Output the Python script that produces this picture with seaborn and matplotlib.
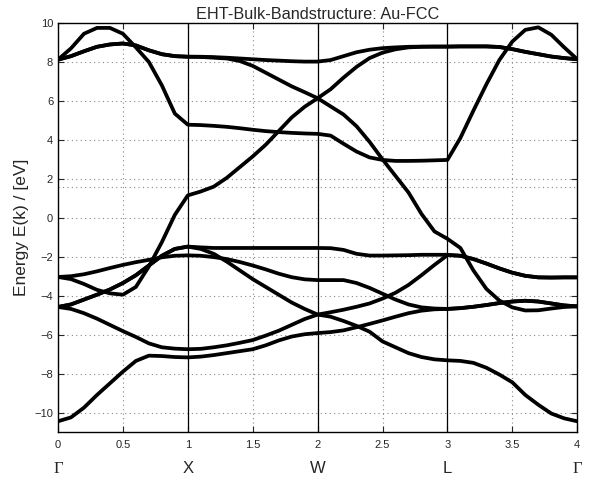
import matplotlib
matplotlib.use("Agg")
import matplotlib.pyplot as plt
import seaborn as sns
import pandas as pd

sns.set_style("ticks")
plt.rcParams['font.family'] = ['Liberation Sans', 'DejaVu Sans']

# path coordinate along Gamma-X-W-L-Gamma
k = [0.0, 0.1, 0.2, 0.3, 0.4, 0.5, 0.6, 0.7, 0.8, 0.9,
     1.0, 1.1, 1.2, 1.3, 1.4, 1.5, 1.6, 1.7, 1.8, 1.9,
     2.0, 2.1, 2.2, 2.3, 2.4, 2.5, 2.6, 2.7, 2.8, 2.9,
     3.0, 3.1, 3.2, 3.3, 3.4, 3.5, 3.6, 3.7, 3.8, 3.9, 4.0]

# band energies in eV
band_a = [-10.45, -10.25, -9.75, -9.1, -8.5, -7.9, -7.35, -7.08, -7.1, -7.15,
          -7.17, -7.13, -7.05, -6.95, -6.85, -6.75, -6.55, -6.3, -6.1, -5.98,
          -5.92, -5.87, -5.78, -5.62, -5.45, -5.27, -5.08, -4.9, -4.77, -4.7,
          -4.68, -4.64, -4.57, -4.48, -4.38, -4.3, -4.26, -4.3, -4.4, -4.5, -4.55]
band_b = [-4.58, -4.68, -4.9, -5.18, -5.5, -5.82, -6.12, -6.45, -6.65, -6.72,
          -6.75, -6.73, -6.65, -6.55, -6.42, -6.28, -6.05, -5.8, -5.5, -5.2,
          -4.97, -4.85, -4.72, -4.57, -4.4, -4.15, -3.85, -3.45, -2.95, -2.42,
          -1.92, -1.95, -2.12, -2.35, -2.6, -2.82, -2.98, -3.06, -3.07, -3.06, -3.06]
band_c = [-4.58, -4.45, -4.2, -3.95, -3.68, -3.35, -2.95, -2.45, -1.95, -1.6,
          -1.48, -1.52, -1.55, -1.55, -1.55, -1.55, -1.55, -1.55, -1.55, -1.55,
          -1.55, -1.56, -1.65, -1.85, -1.94, -1.94, -1.93, -1.92, -1.9, -1.9,
          -1.9, -1.95, -2.12, -2.35, -2.6, -2.82, -2.98, -3.06, -3.07, -3.06, -3.06]
band_d = [-3.04, -3.0, -2.9, -2.75, -2.58, -2.42, -2.28, -2.16, -2.03, -1.95,
          -1.93, -1.95, -2.02, -2.12, -2.27, -2.45, -2.65, -2.87, -3.05, -3.16,
          -3.2, -3.2, -3.2, -3.35, -3.6, -3.9, -4.2, -4.45, -4.6, -4.66,
          -4.68, -4.64, -4.57, -4.48, -4.38, -4.3, -4.26, -4.3, -4.4, -4.5, -4.55]
band_e = [-3.04, -3.15, -3.4, -3.7, -3.88, -3.95, -3.55, -2.5, -1.25, 0.15,
          1.15, 1.35, 1.6, 2.05, 2.6, 3.15, 3.75, 4.45, 5.15, 5.7,
          6.14, 6.6, 7.2, 7.75, 8.2, 8.48, 8.65, 8.75, 8.78, 8.79,
          8.79, 8.8, 8.8, 8.8, 8.77, 8.66, 8.52, 8.4, 8.28, 8.2, 8.14]
band_f = [8.12, 8.7, 9.45, 9.75, 9.75, 9.45, 8.75, 8.0, 6.8, 5.35,
          4.78, 4.76, 4.72, 4.67, 4.6, 4.52, 4.45, 4.4, 4.36, 4.33,
          4.31, 4.22, 3.8, 3.4, 3.1, 2.97, 2.92, 2.92, 2.93, 2.95,
          2.97, 4.1, 5.5, 6.85, 8.1, 9.05, 9.65, 9.78, 9.4, 8.75, 8.14]
band_g = [8.12, 8.3, 8.55, 8.78, 8.9, 8.95, 8.85, 8.6, 8.4, 8.3,
          8.27, 8.27, 8.25, 8.22, 8.18, 8.14, 8.1, 8.07, 8.04, 8.02,
          8.02, 8.1, 8.3, 8.5, 8.63, 8.71, 8.75, 8.78, 8.79, 8.79,
          8.79, 8.8, 8.8, 8.8, 8.77, 8.66, 8.52, 8.4, 8.28, 8.2, 8.14]
band_h = [8.12, 8.3, 8.55, 8.78, 8.9, 8.95, 8.85, 8.6, 8.4, 8.3,
          8.27, 8.26, 8.22, 8.18, 8.05, 7.8, 7.45, 7.1, 6.75, 6.45,
          6.14, 5.72, 5.3, 4.7, 3.9, 3.0, 2.15, 1.3, 0.2, -0.7,
          -1.08, -1.55, -2.7, -3.65, -4.25, -4.6, -4.76, -4.75, -4.66, -4.58, -4.55]
band_i = [-4.58, -4.45, -4.2, -3.95, -3.68, -3.35, -2.95, -2.45, -1.95, -1.6,
          -1.48, -1.6, -1.85, -2.25, -2.7, -3.15, -3.55, -3.95, -4.35, -4.68,
          -4.97, -5.08, -5.3, -5.55, -5.85, -6.35, -6.65, -6.95, -7.15, -7.27,
          -7.32, -7.35, -7.45, -7.7, -8.05, -8.45, -9.1, -9.6, -10.05, -10.3, -10.45]

bands = [band_a, band_b, band_c, band_d, band_e, band_f, band_g, band_h, band_i]

sym_pos = [0, 1, 2, 3, 4]
sym_labels = ['\u0393', 'X', 'W', 'L', '\u0393']
fermi = 1.6

rows = []
for n, b in enumerate(bands):
    for kk, e in zip(k, b):
        rows.append({'k': kk, 'E': e, 'band': n})
df = pd.DataFrame(rows)

fig = plt.figure(figsize=(5.89, 4.83), dpi=100)
ax = fig.add_axes([0.0985, 0.1056, 0.8815, 0.8467])

# grid like the old matlab plots
ax.set_xticks([0, 0.5, 1, 1.5, 2, 2.5, 3, 3.5, 4])
ax.set_xticklabels(['0', '0.5', '1', '1.5', '2', '2.5', '3', '3.5', '4'])
ax.set_yticks(range(-10, 11, 2))
ax.grid(True, linestyle=(0, (1, 3)), color='#888888', linewidth=0.8)
ax.axhline(fermi, linestyle=(0, (1, 3)), color='#888888', linewidth=0.8)
for p in sym_pos[1:-1]:
    ax.axvline(p, color='black', linewidth=0.9)

sns.lineplot(data=df, x='k', y='E', units='band', estimator=None,
             color='black', linewidth=2.7, ax=ax, legend=False,
             solid_joinstyle='round', solid_capstyle='round')

ax.set_xlim(0, 4)
ax.set_ylim(-11, 10)
ax.set_xlabel('')
ax.set_ylabel('Energy E(k) / [eV]', fontsize=12.5, labelpad=4)
ax.set_title('EHT-Bulk-Bandstructure: Au-FCC', fontsize=11.7, pad=3)
ax.tick_params(direction='in', top=True, right=True, labelsize=8, length=4, width=0.8)
ax.tick_params(axis='x', pad=6)
for s in ax.spines.values():
    s.set_linewidth(1.0)
    s.set_color('black')

for p, lab in zip(sym_pos, sym_labels):
    fam = 'Liberation Serif' if lab == '\u0393' else 'Liberation Sans'
    ax.text(p, -0.09, lab, transform=ax.get_xaxis_transform(),
            ha='center', va='center', fontsize=12, family=fam)

fig.savefig('out.png', dpi=100)
